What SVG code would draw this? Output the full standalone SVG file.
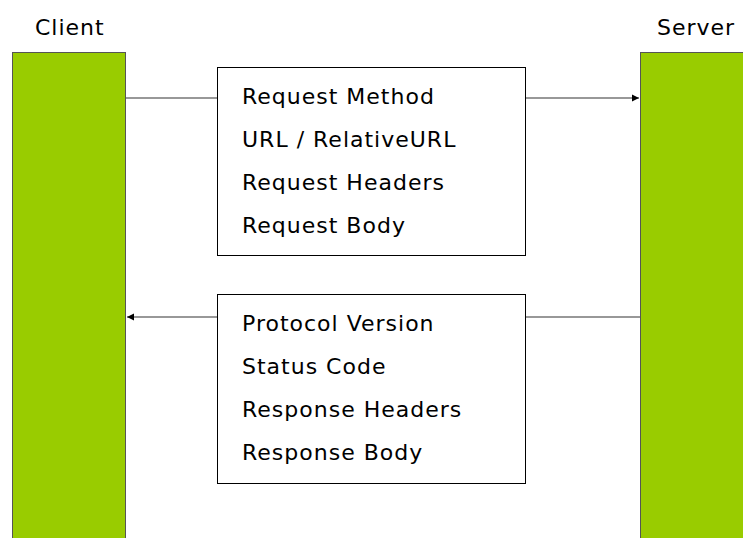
<svg xmlns="http://www.w3.org/2000/svg" width="743" height="538" viewBox="0 0 743 538">
  <style>
    .bar { fill: #99cc00; stroke: #555; stroke-width: 1; }
    .box { fill: #fff; stroke: #000; stroke-width: 1; }
    .lbl { font-family: "DejaVu Sans", Verdana, sans-serif; font-size: 22px; letter-spacing: 1px; fill: #000; }
    .edge { stroke: #333; stroke-width: 1.2; fill: none; }
  </style>
  <defs>
    <marker id="arrow" markerWidth="8" markerHeight="8" refX="7" refY="4" orient="auto" markerUnits="userSpaceOnUse">
      <path d="M0,0.5 L7,4 L0,7.5 Z" fill="#000"/>
    </marker>
  </defs>

  <rect width="743" height="538" fill="#fff"/>

  <g id="client">
    <rect class="bar" x="12.5" y="52.5" width="113" height="490"/>
    <text class="lbl" x="35" y="35">Client</text>
  </g>

  <g id="server">
    <rect class="bar" x="640.5" y="52.5" width="110" height="490"/>
    <text class="lbl" x="657" y="35">Server</text>
  </g>

  <g id="connectors">
    <path class="edge" d="M126,98 H217"/>
    <path class="edge" d="M526,98 H639" marker-end="url(#arrow)"/>
    <path class="edge" d="M640,317 H526"/>
    <path class="edge" d="M217,317 H127" marker-end="url(#arrow)"/>
  </g>

  <g id="request">
    <rect class="box" x="217.5" y="67.5" width="308" height="188"/>
    <text class="lbl" x="242" y="104">Request Method</text>
    <text class="lbl" x="242" y="147">URL / RelativeURL</text>
    <text class="lbl" x="242" y="190">Request Headers</text>
    <text class="lbl" x="242" y="233">Request Body</text>
  </g>

  <g id="response">
    <rect class="box" x="217.5" y="294.5" width="308" height="189"/>
    <text class="lbl" x="242" y="331">Protocol Version</text>
    <text class="lbl" x="242" y="374">Status Code</text>
    <text class="lbl" x="242" y="417">Response Headers</text>
    <text class="lbl" x="242" y="460">Response Body</text>
  </g>
</svg>
